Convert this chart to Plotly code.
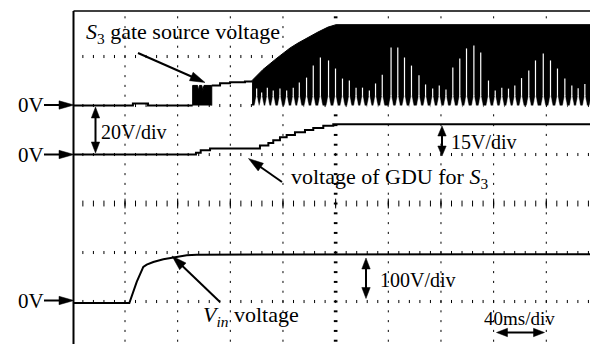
import math
import numpy as np
import plotly.graph_objects as go

# ---------------- data (time in ms, voltages in V) ----------------
MS_PER_DIV = 40
# Channel 1: S3 gate-source voltage, 20 V/div
CH1_PRE_T = [0, 46.0, 57.5, 91.4]
CH1_PRE_V = [0, 0.8, 0, 0]
BURST_T = [91.4, 91.4, 95.1, 95.8, 96.6, 98.3, 99.1, 100.0, 105.9, 105.9]
BURST_V = [0, 8.2, 8.2, 6.1, 8.2, 8.2, 6.1, 8.2, 8.2, 0]
CH1_MID_T = [105.9, 112.2, 119.8, 131.1, 136.5]
CH1_MID_V = [8.2, 9.1, 9.5, 9.8, 9.8]
ENV_T = [136.5, 144.8, 155.5, 165.4, 171.4, 179.0, 186.6, 194.2, 200.3, 400]
ENV_V = [10.2, 14.7, 19.4, 23.5, 25.5, 27.9, 30.0, 32.0, 33.0, 33.0]
ENV_FLOOR_V = 0.2
SPIKE_T = [140.0, 143.8, 148.1, 152.6, 157.7, 162.8, 167.8, 172.4, 177.9, 183.0,
           188.4, 194.6, 199.9, 205.2, 210.4, 215.5, 220.4, 225.6, 230.3, 235.4,
           242.1, 247.2, 252.3, 257.6, 263.3, 268.3, 273.7, 278.7, 283.8, 289.0,
           294.3, 299.4, 305.0, 310.2, 316.1, 321.2, 326.2, 331.3, 336.1, 341.2,
           346.7, 351.8, 357.7, 363.2, 368.5, 374.1, 379.4, 384.2, 389.3, 394.4]
SPIKE_V = [6.9, 5.3, 7.3, 6.1, 6.9, 6.1, 7.3, 9.4, 11.4, 16.3,
           19.6, 18.4, 15.1, 11.0, 10.2, 7.3, 7.3, 6.1, 9.0, 12.6,
           23.7, 23.7, 19.6, 16.3, 12.4, 8.6, 6.9, 8.2, 6.5, 15.5,
           19.2, 23.3, 24.5, 21.6, 10.2, 6.1, 7.3, 6.9, 8.2, 11.2,
           14.3, 18.4, 21.2, 18.4, 15.1, 11.0, 8.2, 7.1, 8.8, 6.9]
NOTCH_V = 4.3

# Channel 2: voltage of GDU for S3, 15 V/div
CH2_T = [0, 93.9, 97.5, 104.6, 142.5, 148.9, 152.6, 157.7, 162.8, 169.1,
         176.7, 183.0, 190.6, 198.2, 400]
CH2_V = [0, 0.53, 1.32, 1.85, 2.74, 3.5, 4.4, 5.3, 6.0, 6.8,
         7.5, 8.1, 8.8, 9.3, 9.3]

# Channel 3: Vin, 100 V/div
CH3_T = [0, 43.3, 48.9, 53.9, 56.5, 61.5, 69.1, 76.7, 86.9, 94.5, 400]
CH3_V = [0, 0, 42.9, 73.5, 78.2, 83.7, 89.2, 93.3, 97.4, 98.6, 99.4]

VDIV = {1: 20, 2: 15, 3: 100}
ZERO = {1: 2.0, 2: 1.0, 3: -2.03}

LABELS = {
    "ch1": "<i>S</i><sub>3</sub> gate source voltage",
    "ch2": "voltage of GDU for <i>S</i><sub>3</sub>",
    "ch3": "<i>V</i><sub><i>in</i></sub> voltage",
    "s1": "20V/div", "s2": "15V/div", "s3": "100V/div", "st": "40ms/div",
    "zero": "0V",
}

# ---------------- helpers ----------------
OFF = 8                      # page (body) margin of the browser
W, H = 598 - OFF, 344 - OFF
ML, MR, MT, MB = 74 - OFF, 3, 11 - OFF, 0
PW, PH = W - ML - MR, H - MT - MB
XR = [1.26, 397.0]
YR = [-2.867, 3.929]
FONT = "Liberation Serif"


def div(ch, v):
    return [None if a is None else a / VDIV[ch] + ZERO[ch] for a in v]


def P(px, py):
    # screen pixel -> paper coordinates
    return ((px - OFF - ML) / PW, (H - MB - (py - OFF)) / PH)


fig = go.Figure()

# ---- graticule ----
def marks(xs, ys, symbol, size, width):
    fig.add_trace(go.Scatter(x=xs, y=ys, mode="markers", hoverinfo="skip",
                             showlegend=False,
                             marker=dict(symbol=symbol, size=size,
                                         line=dict(color="black", width=width))))

ystep = np.round(np.arange(-2.8, 3.81, 0.2), 3)
xstep = np.arange(8, 400, 8)
vx, vy = [], []
for k in range(1, 10):
    if k == 5:
        continue
    vx += [k * MS_PER_DIV] * len(ystep)
    vy += list(ystep)
marks(vx, vy, "line-ns", 1.5, 1)
hx, hy = [], []
for r in [-2, -1, 1, 2, 3]:
    hx += list(xstep)
    hy += [r] * len(xstep)
marks(hx, hy, "line-ns", 2.2, 1)
marks(list(xstep), [0] * len(xstep), "line-ns", 4.2, 1)
marks([k * MS_PER_DIV for k in range(1, 10)], [0] * 9, "line-ns", 7, 1)
marks([5 * MS_PER_DIV] * len(ystep), list(ystep), "line-ew", 2.6, 2)

# ---- channel 1 ----
fig.add_trace(go.Scatter(x=CH1_PRE_T, y=div(1, CH1_PRE_V), mode="lines",
                         line=dict(color="black", width=2, shape="hv"), showlegend=False))
fig.add_trace(go.Scatter(x=BURST_T, y=div(1, BURST_V), mode="lines", fill="toself",
                         fillcolor="black", line=dict(color="black", width=1), showlegend=False))
fig.add_trace(go.Scatter(x=CH1_MID_T, y=div(1, CH1_MID_V), mode="lines",
                         line=dict(color="black", width=2, shape="hv"), showlegend=False))
env_x = ENV_T + [ENV_T[-1], ENV_T[0]]
env_y = ENV_V + [ENV_FLOOR_V, ENV_FLOOR_V]
fig.add_trace(go.Scatter(x=env_x, y=div(1, env_y), mode="lines", fill="toself",
                         fillcolor="black", line=dict(color="black", width=1), showlegend=False))
# white gaps of the switching waveform
HALF = 1.75
nx, ny, sx, sy = [], [], [], []
for t, v in zip(SPIKE_T, SPIKE_V):
    nx += [t - HALF, t, t + HALF, None]
    ny += [-0.6, min(v, NOTCH_V), -0.6, None]
    sx += [t, t, None]
    sy += [NOTCH_V - 0.3, v, None]
fig.add_trace(go.Scatter(x=nx, y=div(1, ny), mode="lines", fill="toself", fillcolor="white",
                         line=dict(color="white", width=0.5), showlegend=False))
fig.add_trace(go.Scatter(x=sx, y=div(1, sy), mode="lines",
                         line=dict(color="white", width=1.2), showlegend=False))

# ---- channel 2 ----
fig.add_trace(go.Scatter(x=CH2_T, y=div(2, CH2_V), mode="lines",
                         line=dict(color="black", width=2, shape="hv"), showlegend=False))
# ---- channel 3 ----
fig.add_trace(go.Scatter(x=CH3_T, y=div(3, CH3_V), mode="lines",
                         line=dict(color="black", width=2), showlegend=False))

# ---------------- shapes: frame + arrows ----------------
shapes = [
    dict(type="line", xref="paper", yref="paper", x0=P(73.5, 0)[0], x1=P(73.5, 0)[0], y0=0, y1=1,
         line=dict(color="black", width=2)),
    dict(type="line", xref="paper", yref="paper", x0=P(73.5, 0)[0], x1=1, y0=P(0, 11)[1], y1=P(0, 11)[1],
         line=dict(color="black", width=1.5)),
    dict(type="line", xref="paper", yref="paper", x0=1, x1=1, y0=0, y1=1,
         line=dict(color="black", width=1.2)),
]


def head(tx, ty, ux, uy, L, Wd):
    bx, by = tx - L * ux, ty - L * uy
    nx_, ny_ = -uy, ux
    pts = [(tx, ty), (bx + Wd * nx_, by + Wd * ny_), (bx - Wd * nx_, by - Wd * ny_)]
    path = "M " + " L ".join("%.5f,%.5f" % P(*p) for p in pts) + " Z"
    return dict(type="path", xref="paper", yref="paper", path=path,
                fillcolor="black", line=dict(color="black", width=0.5))


def arrow(tail, tip, L, Wd, lw=2, both=False):
    (x0, y0), (x1, y1) = tail, tip
    d = math.hypot(x1 - x0, y1 - y0)
    ux, uy = (x1 - x0) / d, (y1 - y0) / d
    sx0, sy0 = (x0 + (L - 2) * ux, y0 + (L - 2) * uy) if both else (x0, y0)
    ex, ey = x1 - (L - 2) * ux, y1 - (L - 2) * uy
    a, b = P(sx0, sy0), P(ex, ey)
    shapes.append(dict(type="line", xref="paper", yref="paper", x0=a[0], y0=a[1], x1=b[0], y1=b[1],
                       line=dict(color="black", width=lw)))
    shapes.append(head(x1, y1, ux, uy, L, Wd))
    if both:
        shapes.append(head(x0, y0, -ux, -uy, L, Wd))


for yy in [105, 154.5, 300.5]:
    arrow((44, yy), (74, yy), 15, 4.2)
arrow((138, 53), (205, 82.5), 15, 4.6)
arrow((282, 182), (248.5, 158.5), 15, 4.6)
arrow((220, 302), (172, 256), 15, 4.6)
arrow((95.5, 107), (95.5, 153), 11, 4.2, both=True)
arrow((442, 126), (442, 156), 10, 4.2, both=True)
arrow((366, 258), (366, 298.5), 11, 4.2, both=True)
arrow((496.5, 332.5), (544.5, 332.5), 11, 4.2, both=True)

# ---------------- annotations ----------------
ann = []


def text(s, px, py, size, anchor="left"):
    x, y = P(px, py)
    ann.append(dict(text=s, x=x, y=y, xref="paper", yref="paper", showarrow=False,
                    xanchor=anchor, yanchor="middle", borderpad=0, borderwidth=0,
                    font=dict(family=FONT, size=size, color="black")))


for yy in [105, 154.5, 300.5]:
    text(LABELS["zero"], 44, yy, 21, "right")
text(LABELS["ch1"], 86, 32.5, 22)
text(LABELS["s1"], 101, 132, 20)
text(LABELS["s2"], 451, 142, 20)
text(LABELS["ch2"], 291, 178, 22)
text(LABELS["s3"], 380, 279.5, 20)
text(LABELS["ch3"], 203, 316, 22)
text(LABELS["st"], 484, 318, 19)

fig.update_layout(
    width=W, height=H, margin=dict(l=ML, r=MR, t=MT, b=MB, pad=0),
    paper_bgcolor="white", plot_bgcolor="white", showlegend=False,
    xaxis=dict(range=XR, showgrid=False, zeroline=False, showticklabels=False,
               ticks="", showline=False, fixedrange=True),
    yaxis=dict(range=YR, showgrid=False, zeroline=False, showticklabels=False,
               ticks="", showline=False, fixedrange=True),
    shapes=shapes, annotations=ann,
)
fig.write_html("out.html")
